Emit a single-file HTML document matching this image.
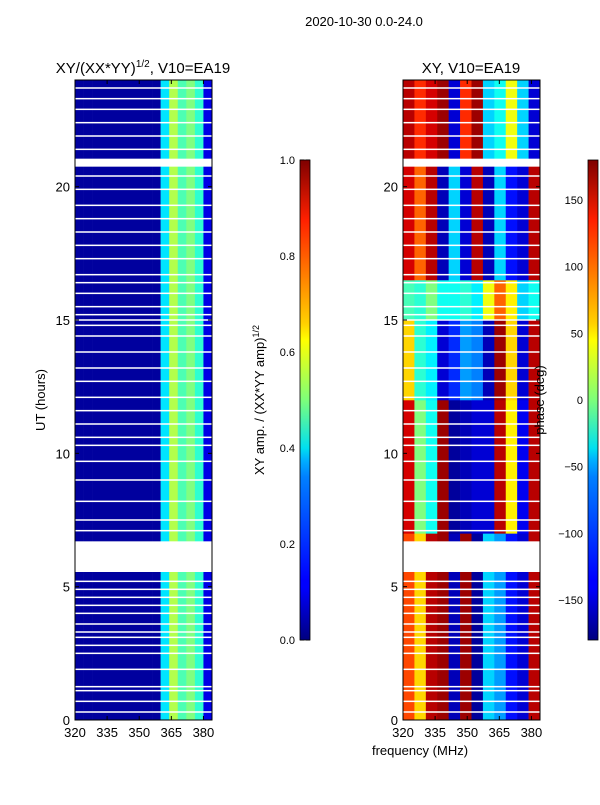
<!DOCTYPE html>
<html><head><meta charset="utf-8"><style>
body{margin:0;background:#fff;}
svg text{font-family:"Liberation Sans",sans-serif;fill:#000;}
</style></head><body>
<svg id="s" width="600" height="800" xmlns="http://www.w3.org/2000/svg">
<defs><linearGradient id="jet" x1="0" y1="1" x2="0" y2="0">
<stop offset="0" stop-color="#00007f"/><stop offset="0.11" stop-color="#0000ff"/><stop offset="0.125" stop-color="#0000ff"/>
<stop offset="0.34" stop-color="#0080ff"/><stop offset="0.375" stop-color="#00b0ff"/><stop offset="0.4" stop-color="#00e0f0"/>
<stop offset="0.5" stop-color="#7dff7a"/><stop offset="0.625" stop-color="#ffff00"/><stop offset="0.66" stop-color="#ffd000"/>
<stop offset="0.875" stop-color="#ff2000"/><stop offset="1" stop-color="#7f0000"/></linearGradient></defs>
<text x="364" y="26" font-size="13" text-anchor="middle">2020-10-30 0.0-24.0</text>
<text x="143" y="73" font-size="15" text-anchor="middle">XY/(XX*YY)<tspan font-size="10" dy="-6">1/2</tspan><tspan dy="6">, V10=EA19</tspan></text>
<text x="471" y="73" font-size="15" text-anchor="middle">XY, V10=EA19</text>
<g id="left"></g>
<g id="right"></g>
<g id="axes"></g>
<rect x="300" y="160" width="10" height="480" fill="url(#jet)" stroke="#000" stroke-width="0.8"/>
<rect x="588" y="160" width="10" height="480" fill="url(#jet)" stroke="#000" stroke-width="0.8"/>
<text transform="translate(264,400) rotate(-90)" font-size="13" text-anchor="middle">XY amp. / (XX*YY amp)<tspan font-size="9" dy="-5">1/2</tspan></text>
<text transform="translate(544,400) rotate(-90)" font-size="13" text-anchor="middle">phase (deg)</text>
<text transform="translate(45,400) rotate(-90)" font-size="13" text-anchor="middle">UT (hours)</text>
<text x="420" y="755" font-size="13" text-anchor="middle">frequency (MHz)</text>
</svg>
<script>
const hourTicks=[0,5,10,15,20];
const freqTicks=[320,335,350,365,380];
const ampTicks=[0.0,0.2,0.4,0.6,0.8,1.0];
const phaseTicks=[-150,-100,-50,0,50,100,150];
const ampColumns=[0.03,0.03,0.03,0.03,0.03,0.03,0.03,0.03,0.03,0.03,0.35,0.55,0.45,0.5,0.42,0.1];
const phaseRows0to6=[110,60,160,170,-160,170,-170,-60,-80,-130,-150,160];
const phaseRows7to12=[150,0,-40,170,-170,-160,-150,-150,160,50,-140,160];
const phaseRows12to15=[60,-30,-50,-150,-120,-80,-90,-160,170,60,-150,160];
const phaseRows15to16=[-20,-30,0,-40,-40,-30,-50,40,100,50,-60,-40];
const phaseRows16to21=[150,100,160,-160,-60,-150,160,-160,-60,-130,-150,160];
const phaseRows21to24=[160,120,150,170,-150,120,170,-60,-40,40,-60,-150];
const gapTimes=[0.3,0.7,1.1,1.25,1.9,2.5,2.8,3.1,3.3,3.6,4.0,4.3,4.6,4.9,5.2,7.1,7.5,8.2,9.0,9.7,10.3,10.6,11.1,11.6,12.1,12.7,13.2,13.8,14.4,14.8,15.0,15.2,15.5,16.0,16.4,16.7,17.3,17.8,18.3,18.8,19.3,19.9,20.4,21.4,21.9,22.4,22.9,23.3,23.7];
const bigGaps=[[5.55,6.7],[20.75,21.05]];
const phaseBands=[[0,7,phaseRows0to6],[7,12,phaseRows7to12],[12,15,phaseRows12to15],[15,16.5,phaseRows15to16],[16.5,21,phaseRows16to21],[21,24,phaseRows21to24]];
const NS="http://www.w3.org/2000/svg";
function jet(v){v=Math.max(0,Math.min(1,v));
 const r=Math.max(0,Math.min(1,1.5-Math.abs(4*v-3))),g=Math.max(0,Math.min(1,1.5-Math.abs(4*v-2))),b=Math.max(0,Math.min(1,1.5-Math.abs(4*v-1)));
 return `rgb(${Math.round(r*255)},${Math.round(g*255)},${Math.round(b*255)})`;}
function el(tag,a,p){const e=document.createElementNS(NS,tag);for(const k in a)e.setAttribute(k,a[k]);p.appendChild(e);return e;}
const yB=720,yTop=80;const yS=h=>yB-(h/24)*(yB-yTop);
const L={x0:75,x1:212},R={x0:403,x1:540};
const xS=(P,f)=>P.x0+(f-320)/64*(P.x1-P.x0);
const gl=document.getElementById('left'),gr=document.getElementById('right'),ga=document.getElementById('axes');
ampColumns.forEach((v,i)=>{const f0=320+i*4;
 const r=el('rect',{x:xS(L,f0),y:yTop,width:xS(L,f0+4)-xS(L,f0)+0.3,height:yB-yTop,fill:jet(v)},gl);
 
 });
phaseBands.forEach(b=>{const arr=b[2],w=64/arr.length;arr.forEach((v,i)=>{const f0=320+i*w;
 const r=el('rect',{x:xS(R,f0),y:yS(b[1]),width:xS(R,f0+w)-xS(R,f0)+0.3,height:yS(b[0])-yS(b[1])+0.3,fill:jet((v+180)/360)},gr);
 
 });});
[L,R].forEach(P=>{
 gapTimes.forEach(t=>{const r=el('rect',{x:P.x0,y:yS(t)-0.75,width:P.x1-P.x0,height:1.5,fill:'#fff'},ga);
  
  });
 bigGaps.forEach(g=>{const r=el('rect',{x:P.x0,y:yS(g[1]),width:P.x1-P.x0,height:yS(g[0])-yS(g[1]),fill:'#fff'},ga);
  
  });
 const fr=el('rect',{x:P.x0,y:yTop,width:P.x1-P.x0,height:yB-yTop,fill:'none',stroke:'#000','stroke-width':1},ga);
 
 
 hourTicks.forEach(h=>{const y=yS(h);el('line',{x1:P.x0,x2:P.x0+4,y1:y,y2:y,stroke:'#000'},ga);el('line',{x1:P.x1,x2:P.x1-4,y1:y,y2:y,stroke:'#000'},ga);
  const t=el('text',{x:P.x0-5,y:y+5,'font-size':13,'text-anchor':'end'},ga);t.textContent=h;
  
  });
 freqTicks.forEach(f=>{const x=xS(P,f);el('line',{x1:x,x2:x,y1:yB,y2:yB-4,stroke:'#000'},ga);el('line',{x1:x,x2:x,y1:yTop,y2:yTop+4,stroke:'#000'},ga);
  const t=el('text',{x:x,y:yB+17,'font-size':13,'text-anchor':'middle'},ga);t.textContent=f;
  
  });
});
ampTicks.forEach(v=>{const y=640-v*480;el('line',{x1:300,x2:304,y1:y,y2:y,stroke:'#000'},ga);el('line',{x1:310,x2:306,y1:y,y2:y,stroke:'#000'},ga);
 const t=el('text',{x:295,y:y+4,'font-size':11,'text-anchor':'end'},ga);t.textContent=v.toFixed(1);
 
 });
phaseTicks.forEach(v=>{const y=640-(v+180)/360*480;el('line',{x1:588,x2:592,y1:y,y2:y,stroke:'#000'},ga);el('line',{x1:598,x2:594,y1:y,y2:y,stroke:'#000'},ga);
 const t=el('text',{x:583,y:y+4,'font-size':11,'text-anchor':'end'},ga);t.textContent=v<0?'\u2212'+(-v):v;
 
 });
</script>
</body></html>
